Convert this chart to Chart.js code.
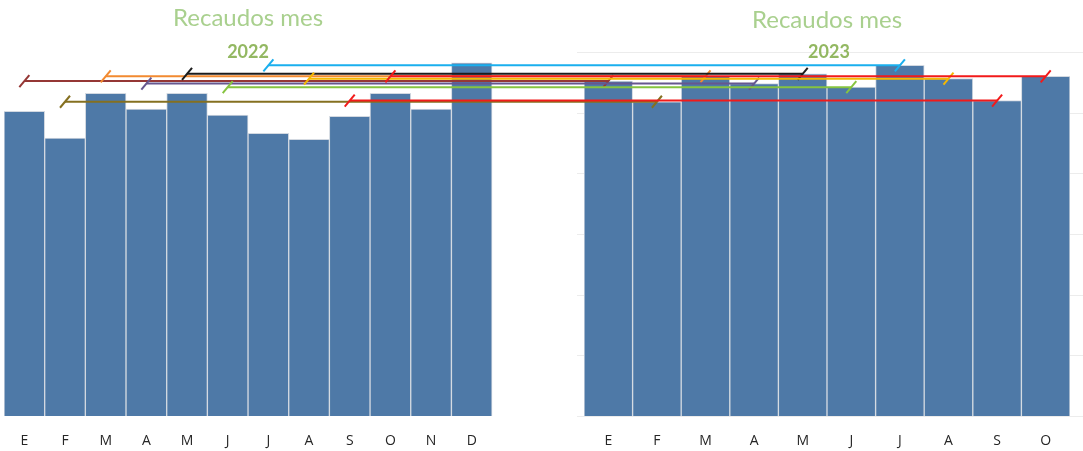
<!DOCTYPE html>
<html>
<head>
<meta charset="utf-8">
<script src="https://cdn.jsdelivr.net/npm/chart.js@4/dist/chart.umd.min.js"></script>
<style>
  html, body { margin: 0; padding: 0; background: #ffffff; }
  canvas { display: block; }
</style>
</head>
<body>
<canvas id="recaudos" width="1083" height="451"></canvas>
<script>
// Monthly collections, two years side by side
const months2022 = ['E', 'F', 'M', 'A', 'M', 'J', 'J', 'A', 'S', 'O', 'N', 'D'];
const months2023 = ['E', 'F', 'M', 'A', 'M', 'J', 'J', 'A', 'S', 'O'];
const recaudos2022 = [251, 229, 266, 253, 266, 248, 233, 228, 247, 266, 253, 291];
const recaudos2023 = [276, 259, 280, 274, 282, 271, 289, 278, 260, 280];
// one comparison line per month, from the 2022 bar to the 2023 level
const compareColors = ['#953735', '#857020', '#F28A30', '#66578F', '#1C1C1C',
                       '#86C440', '#1AAFEE', '#F5B800', '#F21A1A', '#F21A1A'];
const chartTitle = 'Recaudos mes';
const yearTitles = ['2022', '2023'];

const BAR_BLUE = '#4E79A7';

// Gridlines for the 2023 panel, comparison lines and panel titles
const panelDecor = {
  id: 'panelDecor',
  beforeDatasetsDraw(chart) {
    const { ctx, scales: { x23, y } } = chart;
    const left = x23.getPixelForValue(-0.5) - 7;
    ctx.save();
    ctx.strokeStyle = '#ececec';
    ctx.lineWidth = 1;
    y.ticks.forEach(t => {
      const py = Math.round(y.getPixelForValue(t.value)) + 0.5;
      ctx.beginPath();
      ctx.moveTo(left, py);
      ctx.lineTo(chart.width, py);
      ctx.stroke();
    });
    ctx.restore();
  },
  afterDatasetsDraw(chart) {
    const { ctx, scales: { x22, x23, y } } = chart;
    ctx.save();
    ctx.lineWidth = 2;
    ctx.lineCap = 'butt';
    recaudos2023.forEach((v, i) => {
      const xa = x22.getPixelForValue(i);
      const xb = x23.getPixelForValue(i);
      const py = y.getPixelForValue(v);
      ctx.strokeStyle = compareColors[i];
      ctx.beginPath();
      ctx.moveTo(xa, py);
      ctx.lineTo(xb, py);
      ctx.stroke();
      [xa, xb].forEach(px => {
        ctx.beginPath();
        ctx.moveTo(px - 5, py + 6);
        ctx.lineTo(px + 5, py - 6);
        ctx.stroke();
      });
    });
    ctx.restore();
  },
  afterDraw(chart) {
    const { ctx, scales: { x22, x23 } } = chart;
    const centers = [
      (x22.getPixelForValue(-0.5) + x22.getPixelForValue(months2022.length - 0.5)) / 2,
      (x23.getPixelForValue(-0.5) + x23.getPixelForValue(months2023.length - 0.5)) / 2
    ];
    ctx.save();
    ctx.textAlign = 'center';
    ctx.textBaseline = 'middle';
    centers.forEach((cx, k) => {
      ctx.font = '24px Lato';
      ctx.fillStyle = '#A9D08E';
      ctx.fillText(chartTitle, cx, k === 0 ? 18 : 20);
      ctx.font = 'bold 18px Lato';
      ctx.fillStyle = '#93B862';
      ctx.fillText(yearTitles[k], cx + (k === 0 ? 0 : 2), 52);
    });
    ctx.restore();
  }
};

const monthAxis = (labels, max, weight) => ({
  type: 'linear',
  position: 'bottom',
  stack: 'months',
  stackWeight: weight,
  min: -0.5,
  max: max,
  offset: false,
  afterBuildTicks: scale => { scale.ticks = labels.map((_, i) => ({ value: i })); },
  afterFit: scale => {
    scale.height = 35;
    scale.paddingLeft = 0;
    scale.paddingRight = 0;
  },
  grid: { display: false, drawTicks: false },
  border: { display: false },
  ticks: {
    autoSkip: false,
    maxRotation: 0,
    padding: 17,
    color: '#262626',
    font: { family: 'Open Sans', size: 14 },
    callback: value => labels[value] ?? ''
  }
});

const barStyle = {
  backgroundColor: BAR_BLUE,
  borderColor: '#d3d9e1',
  borderWidth: 1,
  barPercentage: 1,
  categoryPercentage: 1,
  grouped: false
};

new Chart(document.getElementById('recaudos'), {
  type: 'bar',
  data: {
    datasets: [
      {
        label: '2022',
        xAxisID: 'x22',
        yAxisID: 'y',
        data: months2022.map((_, i) => ({ x: i, y: recaudos2022[i] })),
        ...barStyle
      },
      {
        label: '2023',
        xAxisID: 'x23',
        yAxisID: 'y',
        data: months2023.map((_, i) => ({ x: i, y: recaudos2023[i] })),
        ...barStyle
      }
    ]
  },
  options: {
    responsive: false,
    animation: false,
    devicePixelRatio: 1,
    layout: { padding: { left: 4, right: 13, top: 52, bottom: 0 } },
    plugins: {
      legend: { display: false },
      tooltip: { enabled: false }
    },
    scales: {
      x22: monthAxis(months2022, 13.76, 580),
      x23: monthAxis(months2023, 9.5, 486),
      y: {
        min: 0,
        max: 300,
        afterFit: scale => { scale.width = 0; },
        grid: { display: false, drawTicks: false },
        border: { display: false },
        ticks: { display: false, stepSize: 50 }
      }
    }
  },
  plugins: [panelDecor]
});
</script>
</body>
</html>
